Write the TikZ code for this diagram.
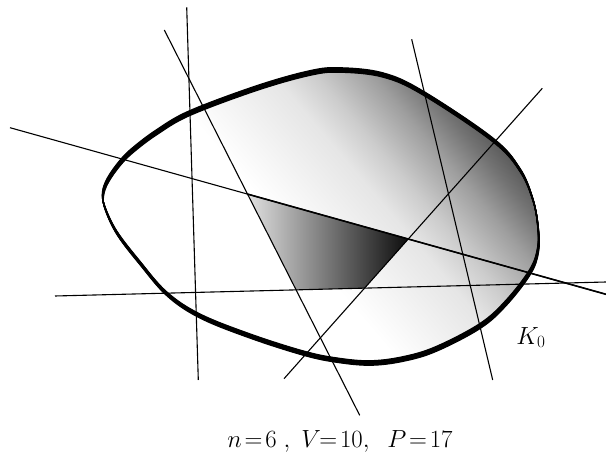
\documentclass[tikz,border=0pt]{standalone}
\pgfdeclarehorizontalshading{kshade}{100bp}{color(0bp)=(white); color(43bp)=(white); color(55.5bp)=(black!10); color(60bp)=(black!20); color(66bp)=(black!38); color(70.4bp)=(black!55); color(73.1bp)=(black!64); color(75bp)=(black!66); color(100bp)=(black!66)}
\begin{document}
\newcommand{\Kcurve}{plot[smooth cycle,tension=0.6] coordinates{(103,194) (108,180) (120,163) (133,150) (157,132) (190,113) (257,88) (310,73) (340,70) (383,75) (423,93) (493,140) (520,170) (533,200) (538,227) (538,250) (530,272) (506,303) (480,326) (436,349) (403,359) (370,363) (336,360) (303,353) (250,336) (200,316) (167,294) (140,263) (117,233) (105,208)}}
\begin{tikzpicture}[x=1bp,y=-1bp,
  cutline/.style={line width=1.1bp,black},
  rim/.style={line width=1.3bp,black},
  lbl/.style={font=\fontsize{24}{28}\selectfont,inner sep=0pt,anchor=base}]
\useasboundingbox (0,0) rectangle (606,452);
% region K0
\begin{scope}
  \clip \Kcurve;
  \begin{scope}[transform canvas={rotate around={40.36:(300,220)}}]
    \shade[shading=kshade] (153.9,-300) rectangle (513.9,700);
  \end{scope}
\end{scope}
% line end points
\coordinate (a1) at (186.7,7.3);  \coordinate (a2) at (198.3,380);
\coordinate (b1) at (164.3,30);   \coordinate (b2) at (359.7,415.3);
\coordinate (c1) at (10,127.7);   \coordinate (c2) at (606,294.3);
\coordinate (d1) at (55,296);     \coordinate (d2) at (606,282);
\coordinate (e1) at (411.7,39.3); \coordinate (e2) at (492.7,380);
\coordinate (f1) at (542.3,88.3); \coordinate (f2) at (284,378.7);
% cell vertices
\coordinate (q1) at (intersection of b1--b2 and c1--c2);
\coordinate (q2) at (intersection of c1--c2 and f1--f2);
\coordinate (q3) at (intersection of f1--f2 and d1--d2);
\coordinate (q4) at (intersection of d1--d2 and b1--b2);
\shade[left color=black!12,right color=black!95] (q1) -- (q2) -- (q3) -- (q4) -- cycle;
% lines
\draw[cutline] (a1) -- (a2);
\draw[cutline] (b1) -- (b2);
\draw[cutline] (c1) -- (c2);
\draw[cutline] (d1) -- (d2);
\draw[cutline] (e1) -- (e2);
\draw[cutline] (f1) -- (f2);
\draw[line width=1.6bp] (q1) -- (c2);
% boundary of K0 with varying thickness
\foreach \s in {-2.2,-1.65,-1.1,-0.55,0,0.55,1.1,1.65,2.2}{
  \draw[rim,shift={(0.2*\s,\s)}] \Kcurve;
}
% labels
\node[lbl] (k0) at (531,344) {$K_0$};
\node[lbl] (cap) at (340,447) {$n\!=\!6\;,\;V\!\!=\!10,\;\;P\!=\!17$};
\end{tikzpicture}
\end{document}
